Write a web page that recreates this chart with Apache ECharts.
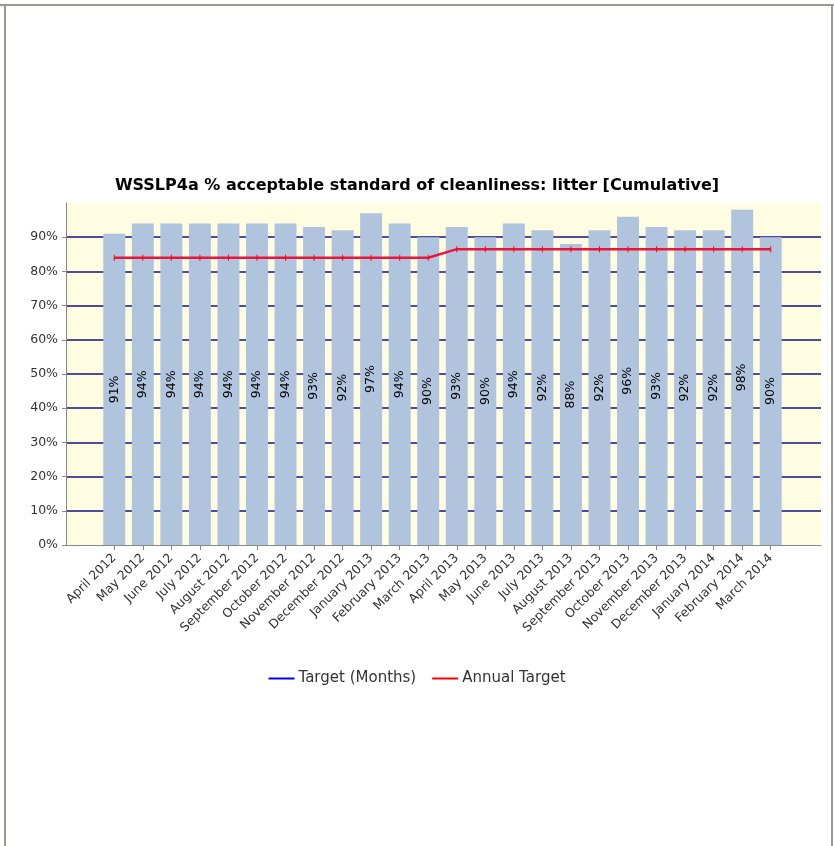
<!DOCTYPE html>
<html>
<head>
<meta charset="utf-8">
<script src="https://cdn.jsdelivr.net/npm/echarts@6/dist/echarts.min.js"></script>
<style>
html,body{margin:0;padding:0;background:#fff;}
#c{width:834px;height:846px;}
</style>
</head>
<body>
<div id="c"></div>
<script>
var months = ['April 2012','May 2012','June 2012','July 2012','August 2012','September 2012','October 2012','November 2012','December 2012','January 2013','February 2013','March 2013','April 2013','May 2013','June 2013','July 2013','August 2013','September 2013','October 2013','November 2013','December 2013','January 2014','February 2014','March 2014'];
var cleanliness = [91,94,94,94,94,94,94,93,92,97,94,90,93,90,94,92,88,92,96,93,92,92,98,90];
var annualTarget = [84,84,84,84,84,84,84,84,84,84,84,84,86.5,86.5,86.5,86.5,86.5,86.5,86.5,86.5,86.5,86.5,86.5,86.5];
var targetMonths = months.map(function(){return null;});
var yTicks = [0,10,20,30,40,50,60,70,80,90,100];

var FONT = 'DejaVu Sans';
var chart = echarts.init(document.getElementById('c'), null, {renderer:'canvas'});
chart.setOption({
  animation:false,
  backgroundColor:'#ffffff',
  title:{
    text:'WSSLP4a % acceptable standard of cleanliness: litter [Cumulative]',
    left:'center', top:173,
    textStyle:{fontFamily:FONT, fontSize:16, fontWeight:'bold', color:'#000'}
  },
  legend:{
    top:666, left:'center',
    icon:'rect', itemWidth:26, itemHeight:2, itemGap:16,
    textStyle:{fontFamily:FONT, fontSize:15, color:'#333', padding:[0,0,0,-1]},
    data:['Target (Months)','Annual Target']
  },
  graphic:[
    {type:'line', shape:{x1:0,y1:5,x2:834,y2:5}, style:{stroke:'#9a9a95', lineWidth:2}},
    {type:'line', shape:{x1:5,y1:5,x2:5,y2:846}, style:{stroke:'#9a9a95', lineWidth:2}},
    {type:'line', shape:{x1:832,y1:5,x2:832,y2:846}, style:{stroke:'#9a9a95', lineWidth:2}}
  ],
  grid:[
    {left:66, top:203, width:755, height:342, show:true, backgroundColor:'#fffde1', borderWidth:0},
    {left:100, top:203, width:685, height:342}
  ],
  xAxis:[
    {gridIndex:0, type:'value', min:0, max:1, axisLabel:{show:false}, axisTick:{show:false}, splitLine:{show:false},
     axisLine:{show:true, lineStyle:{color:'#888', width:1}}},
    {gridIndex:1, type:'category', data:months, boundaryGap:true,
     axisLine:{show:false},
     axisTick:{show:true, alignWithLabel:true, length:5, lineStyle:{color:'#888'}},
     axisLabel:{interval:0, rotate:45, fontFamily:FONT, fontSize:12.5, color:'#333', margin:11}}
  ],
  yAxis:[
    {gridIndex:0, type:'value', min:0, max:100, interval:10,
     axisLine:{show:true, lineStyle:{color:'#888'}},
     axisTick:{show:true, length:4, lineStyle:{color:'#888'}},
     axisLabel:{fontFamily:FONT, fontSize:12.5, color:'#333', margin:8, showMaxLabel:false,
       formatter:function(v){return v>=100?'':v+'%';}},
     splitLine:{show:true, showMinLine:false, showMaxLine:false, lineStyle:{color:'#10107f', width:1.5}}},
    {gridIndex:1, type:'value', min:0, max:100, interval:10, show:false, splitLine:{show:false}}
  ],
  series:[
    {name:'Cleanliness', type:'bar', xAxisIndex:1, yAxisIndex:1, data:cleanliness,
     barCategoryGap:'23%', itemStyle:{color:'#b0c4de'},
     label:{show:true, position:'inside', rotate:90, formatter:'{c}%', color:'#000',
       fontFamily:FONT, fontSize:12.5}},
    {name:'Target (Months)', type:'line', xAxisIndex:1, yAxisIndex:1, data:targetMonths,
     itemStyle:{color:'#0000ff'}, lineStyle:{color:'#0000ff'}, showSymbol:false},
    {name:'Annual Target', type:'line', xAxisIndex:1, yAxisIndex:1, data:annualTarget,
     lineStyle:{color:'#e8173a', width:2.5}, itemStyle:{color:'#ff0000'},
     symbol:'rect', symbolSize:[1,6], showSymbol:true, z:5}
  ]
});
</script>
</body>
</html>
